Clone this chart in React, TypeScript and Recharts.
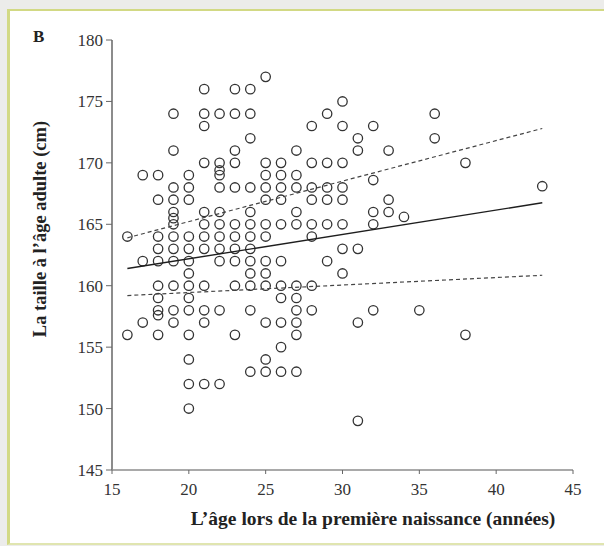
import { ScatterChart, Scatter, XAxis, YAxis } from 'recharts';

// age at first birth (x) and adult heights observed at that age (y)
const ages = [16, 17, 18, 19, 20, 21, 22, 23, 24, 25, 26, 27, 28, 29, 30, 31, 32, 33, 34, 35, 36, 38, 43];
const heightsByAge = [
    [164, 156],
    [169, 162, 157],
    [169, 167, 164, 163, 162, 160, 159, 158, 157.6, 156],
    [174, 171, 168, 167, 166, 165.5, 165, 164, 163, 162, 160, 158, 157],
    [169, 168, 167, 164, 163, 162, 161, 160, 159, 158, 156, 154, 152, 150],
    [176, 174, 173, 170, 166, 165, 164, 163, 160, 158, 157, 152],
    [174, 170, 169.4, 169, 168, 166, 165, 164, 163, 162, 158, 152],
    [176, 174, 171, 170, 168, 165, 164, 163, 162, 160, 156],
    [176, 174, 172, 168, 166, 165, 164, 163, 162, 161, 160, 158, 153],
    [177, 170, 169, 168, 167, 165, 164, 162, 161, 160, 157, 154, 153],
    [170, 169, 168, 167, 165, 162, 160, 159, 157, 155, 153],
    [171, 169, 168, 166, 165, 160, 159, 158, 157, 156, 153],
    [173, 170, 168, 167, 165, 164, 160, 158],
    [174, 170, 168, 167, 165, 162],
    [175, 173, 170, 168, 167, 165, 163, 161],
    [172, 171, 163, 157, 149],
    [173, 168.6, 166, 165, 158],
    [171, 167, 166],
    [165.6],
    [158],
    [174, 172],
    [170, 156],
    [168.1],
];

// regression line and its dashed bounds, at both ends
const fitAges = [16, 43];
const fitMid = [161.4, 166.75];
const fitUpper = [163.9, 172.8];
const fitLower = [159.2, 160.85];

const xTicks = [15, 20, 25, 30, 35, 40, 45];
const yTicks = [145, 150, 155, 160, 165, 170, 175, 180];

const points = ages.flatMap((a, i) => heightsByAge[i].map((h) => ({ x: a, y: h })));
const toLine = (ys: number[]) => fitAges.map((a, i) => ({ x: a, y: ys[i] }));

const serif = '"Liberation Serif", "DejaVu Serif", serif';
const tickStyle = { fontSize: 17, fill: '#333', fontFamily: serif };

const Ring = (p: any) => (
    <circle cx={p.cx} cy={p.cy} r={4.7} fill="none" stroke="#333" strokeWidth={1.3} />
);
const NoDot = () => <g />;

export default function App() {
    return (
        <div style={{ position: 'absolute', left: 0, top: 0, width: 604, height: 546, background: '#ececea' }}>
            <div
                style={{
                    position: 'absolute', left: 7, top: 9, width: 594, height: 532,
                    background: '#fff',
                    borderLeft: '3px solid #d2d984', borderTop: '2px solid #d2d984',
                    borderBottom: '2px solid #e0e5b0',
                }}
            />
            <div style={{ position: 'absolute', left: 0, top: 0 }}>
                <ScatterChart width={604} height={546} margin={{ top: 40, right: 31, bottom: 46, left: 0 }}>
                    <XAxis
                        type="number" dataKey="x" domain={[15, 45]} ticks={xTicks}
                        height={30} tickSize={4} tickMargin={9} tick={tickStyle}
                        axisLine={{ stroke: '#8c8c8c', strokeWidth: 1.6 }}
                        tickLine={{ stroke: '#666' }}
                    />
                    <YAxis
                        type="number" dataKey="y" domain={[145, 180]} ticks={yTicks}
                        width={112} tickSize={6} tickMargin={3} tick={tickStyle}
                        axisLine={{ stroke: '#8c8c8c', strokeWidth: 2 }}
                        tickLine={{ stroke: '#666' }}
                    />
                    <Scatter data={points} shape={Ring} isAnimationActive={false} />
                    <Scatter data={toLine(fitMid)} shape={NoDot} line={{ stroke: '#1e1e1e', strokeWidth: 1.4 }} isAnimationActive={false} />
                    <Scatter data={toLine(fitUpper)} shape={NoDot} line={{ stroke: '#444', strokeWidth: 1.2, strokeDasharray: '4 3' }} isAnimationActive={false} />
                    <Scatter data={toLine(fitLower)} shape={NoDot} line={{ stroke: '#444', strokeWidth: 1.2, strokeDasharray: '4 3' }} isAnimationActive={false} />
                </ScatterChart>
            </div>
            <div style={{ position: 'absolute', left: 33, top: 27, fontFamily: serif, fontWeight: 'bold', fontSize: 17, color: '#222' }}>B</div>
            <div
                style={{
                    position: 'absolute', left: 40, top: 229, transform: 'translate(-50%, -50%) rotate(-90deg)',
                    whiteSpace: 'nowrap', fontFamily: serif, fontWeight: 'bold', fontSize: 18.5, color: '#222',
                }}
            >
                La taille à l’âge adulte (cm)
            </div>
            <div
                style={{
                    position: 'absolute', left: 373, top: 519, transform: 'translate(-50%, -50%)',
                    whiteSpace: 'nowrap', fontFamily: serif, fontWeight: 'bold', fontSize: 19.5, color: '#222',
                }}
            >
                L’âge lors de la première naissance (années)
            </div>
        </div>
    );
}
